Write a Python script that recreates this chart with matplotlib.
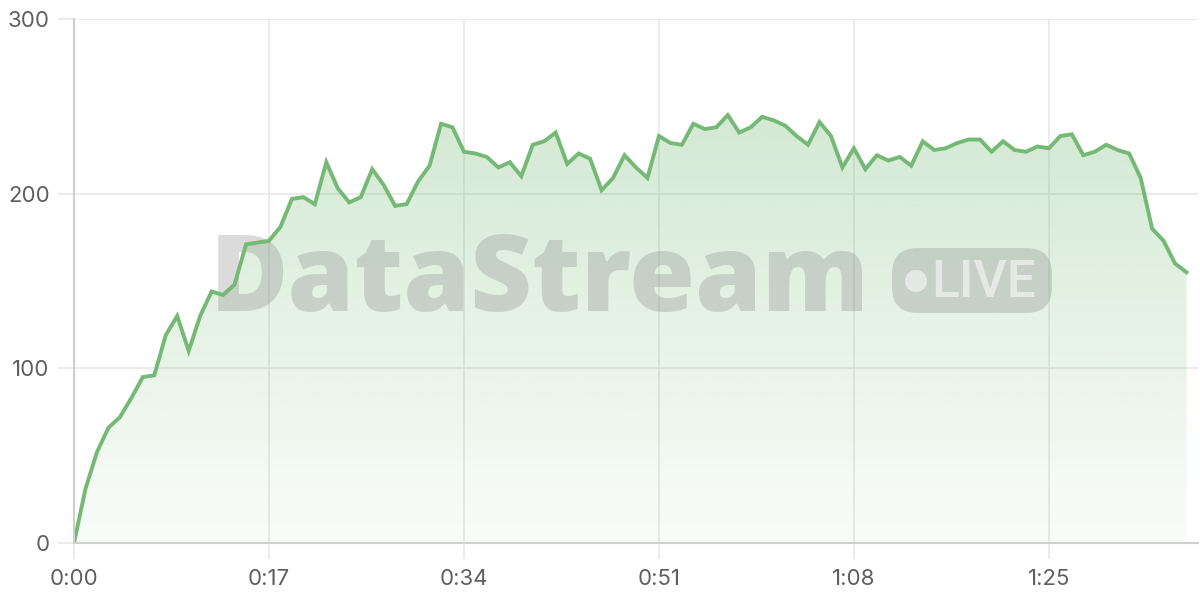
import matplotlib
matplotlib.use('Agg')
import matplotlib.pyplot as plt
import matplotlib.transforms as mtransforms
import numpy as np
from matplotlib.patches import FancyBboxPatch, Circle
from matplotlib.colors import to_rgb

# data: one sample per second
values = [0, 31, 52, 66, 72, 83, 95, 96, 119, 130,
          110, 130, 144, 142, 148, 171, 172, 173, 181, 197,
          198, 194, 218, 203, 195, 198, 214, 205, 193, 194,
          207, 216, 240, 238, 224, 223, 221, 215, 218, 210,
          228, 230, 235, 217, 223, 220, 202, 209, 222, 215,
          209, 233, 229, 228, 240, 237, 238, 245, 235, 238,
          244, 242, 239, 233, 228, 241, 233, 215, 226, 214,
          222, 219, 221, 216, 230, 225, 226, 229, 231, 231,
          224, 230, 225, 224, 227, 226, 233, 234, 222, 224,
          228, 225, 223, 209, 180, 173, 160, 155]
seconds = np.arange(len(values))
tick_seconds = [0, 17, 34, 51, 68, 85]
tick_labels = ['0:00', '0:17', '0:34', '0:51', '1:08', '1:25']
y_ticks = [0, 100, 200, 300]

line_color = '#74b974'
grid_color = '#e8e8e8'
axis_color = '#cfcfcf'
label_color = '#5f5f5f'

plt.rcParams['font.family'] = ['Inter', 'DejaVu Sans']

fig = plt.figure(figsize=(12, 6), dpi=100)
ax = fig.add_axes([74 / 1200, 57 / 600, 1124 / 1200, 524 / 600])
ax.set_xlim(0, 98)
ax.set_ylim(0, 300)

# gradient fill under the line
poly = ax.fill_between(seconds, values, 0, color='none', lw=0)
rgb = to_rgb(line_color)
grad = np.zeros((256, 1, 4))
grad[:, 0, :3] = rgb
grad[:, 0, 3] = np.linspace(0.32, 0.04, 256)
img = ax.imshow(grad, extent=[0, 98, 0, 250], origin='upper', aspect='auto', zorder=1)
img.set_clip_path(poly.get_paths()[0], ax.transData)

ax.plot(seconds, values, color=line_color, lw=2.8, zorder=5, solid_joinstyle='miter')

# grid / ticks
ax.set_xticks(tick_seconds)
ax.set_xticklabels(tick_labels)
ax.set_yticks(y_ticks)
ax.grid(True, color=grid_color, lw=1.2, zorder=0)
ax.set_axisbelow(True)
ax.tick_params(axis='both', length=11.5, width=1.2, color=grid_color,
               labelsize=16, labelcolor=label_color)
ax.tick_params(axis='x', pad=7)
ax.tick_params(axis='y', pad=6)
for s in ['top', 'right']:
    ax.spines[s].set_visible(False)
for s in ['left', 'bottom']:
    ax.spines[s].set_color(axis_color)
    ax.spines[s].set_linewidth(1.5)
    ax.spines[s].set_zorder(6)

# watermark, placed in figure pixels (origin bottom-left), between fill and line
px = mtransforms.Affine2D().scale(1 / 1200, 1 / 600) + fig.transFigure
wm_gray = '#808080'
ax.text(210, 600 - 311, 'DataStream', transform=px, fontsize=77, fontweight=800,
        family=['Open Sans', 'DejaVu Sans'], color=wm_gray, alpha=0.28,
        ha='left', va='baseline', zorder=3, clip_on=False)
pill = FancyBboxPatch((892, 600 - 313), 160, 65, boxstyle='round,pad=0,rounding_size=26',
                      transform=px, facecolor=wm_gray, alpha=0.28, edgecolor='none',
                      zorder=3, clip_on=False)
ax.add_patch(pill)
ax.add_patch(Circle((916, 600 - 281), 11, transform=px, facecolor='white', alpha=0.55,
                    edgecolor='none', zorder=4, clip_on=False))
ax.text(931, 600 - 297, 'LIVE', transform=px, fontsize=37, fontweight=500,
        family=['Roboto', 'DejaVu Sans'], color='white', alpha=0.55,
        ha='left', va='baseline', zorder=4, clip_on=False)

fig.savefig('out.png', dpi=100)
